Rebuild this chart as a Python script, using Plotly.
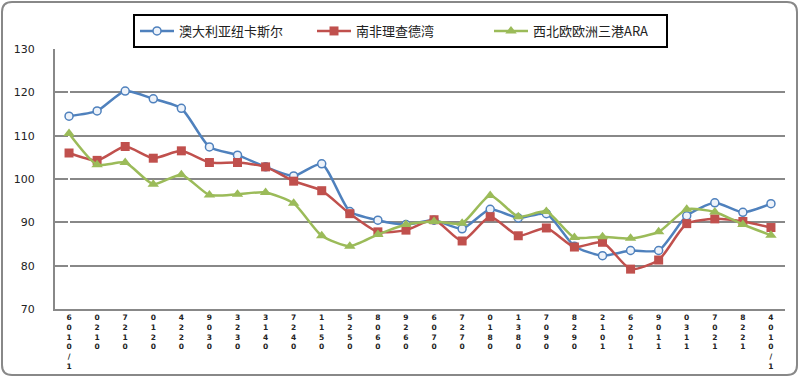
import plotly.graph_objects as go

categories = ["6010/1", "0210", "7210", "0120", "4220", "9030", "3230", "3140", "7240",
              "1150", "5250", "8060", "9260", "6070", "7270", "0180", "1380", "7090",
              "8290", "2101", "6201", "9011", "0311", "7021", "8221", "4010/1"]

australia = [114.5, 115.7, 120.3, 118.5, 116.3, 107.4, 105.5, 102.8, 100.7, 103.5,
             92.5, 90.5, 89.5, 90.5, 88.5, 93.0, 91.0, 92.0, 84.5, 82.3,
             83.5, 83.5, 91.5, 94.5, 92.3, 94.3]
south_africa = [106.0, 104.3, 107.5, 104.8, 106.5, 103.8, 103.8, 102.8, 99.5, 97.3,
                92.0, 87.8, 88.2, 90.6, 85.7, 91.3, 86.9, 88.7, 84.3, 85.4,
                79.2, 81.3, 89.7, 90.8, 90.2, 88.8]
ara = [110.5, 103.3, 103.8, 98.8, 101.0, 96.3, 96.5, 96.9, 94.4, 86.9,
       84.5, 87.2, 89.5, 90.2, 89.8, 96.2, 91.3, 92.5, 86.5, 86.7,
       86.3, 87.8, 93.0, 92.4, 89.5, 87.0]

names = ["澳大利亚纽卡斯尔", "南非理查德湾", "西北欧欧洲三港ARA"]

x = list(range(len(categories)))
ticktext = ["<b>" + "<br>".join(list(c)) + "</b>" for c in categories]

fig = go.Figure()
fig.add_trace(go.Scatter(x=x, y=australia, name=names[0], mode="lines+markers",
                         line=dict(color="#4F81BD", width=2.5, shape="spline", smoothing=0.6),
                         marker=dict(symbol="circle", size=8, color="#EEF3FA",
                                     line=dict(color="#4F81BD", width=1.5))))
fig.add_trace(go.Scatter(x=x, y=south_africa, name=names[1], mode="lines+markers",
                         line=dict(color="#C0504D", width=2.5, shape="spline", smoothing=0.6),
                         marker=dict(symbol="square", size=9, color="#C0504D")))
fig.add_trace(go.Scatter(x=x, y=ara, name=names[2], mode="lines+markers",
                         line=dict(color="#9BBB59", width=2.5, shape="spline", smoothing=0.6),
                         marker=dict(symbol="triangle-up", size=10, color="#9BBB59")))

L, R, T, B = 55, 15, 49, 68
pw, ph = 800 - L - R, 377 - T - B
# border around whole image in paper coords
x0, x1 = (2 - L) / pw, (797 - L) / pw
y0, y1 = -(375 - T - ph) / ph, 1 + (T - 2) / ph
rx, ry = 10 / pw, 10 / ph
path = (f"M {x0+rx},{y1} L {x1-rx},{y1} Q {x1},{y1} {x1},{y1-ry} "
        f"L {x1},{y0+ry} Q {x1},{y0} {x1-rx},{y0} L {x0+rx},{y0} "
        f"Q {x0},{y0} {x0},{y0+ry} L {x0},{y1-ry} Q {x0},{y1} {x0+rx},{y1} Z")

fig.update_layout(
    width=800, height=377,
    margin=dict(l=L, r=R, t=T, b=B, autoexpand=False),
    paper_bgcolor="white", plot_bgcolor="white",
    font=dict(family="Noto Sans CJK SC, DejaVu Sans", size=11, color="#222"),
    legend=dict(orientation="h", x=(133 - L) / pw, xanchor="left",
                y=1 + (T - 14) / ph, yanchor="top",
                bordercolor="black", borderwidth=2, bgcolor="white",
                font=dict(size=13, family="Noto Sans CJK SC", color="#222"),
                itemwidth=34, entrywidth=128, tracegroupgap=0),
    shapes=[dict(type="path", xref="paper", yref="paper", path=path,
                 line=dict(color="#888", width=2), layer="below")],
    showlegend=True,
)
fig.update_xaxes(tickmode="array", tickvals=x, ticktext=ticktext, tickangle=0,
                 range=[-0.5, len(categories) - 0.5], showgrid=False, automargin=False,
                 showline=True, linecolor="#888", linewidth=2,
                 tickfont=dict(size=7.5, family="DejaVu Sans", color="#222"), ticks="")
fig.update_yaxes(range=[70, 130], dtick=10, showgrid=True, gridcolor="#888", gridwidth=2,
                 showline=True, linecolor="#888", linewidth=2, zeroline=False, automargin=False,
                 tickfont=dict(size=11, family="DejaVu Sans", color="#222"), ticks="",
                 ticklabelstandoff=16)

fig.write_html("out.html", config={"displayModeBar": False},
               post_script="document.body.style.margin='0';")
